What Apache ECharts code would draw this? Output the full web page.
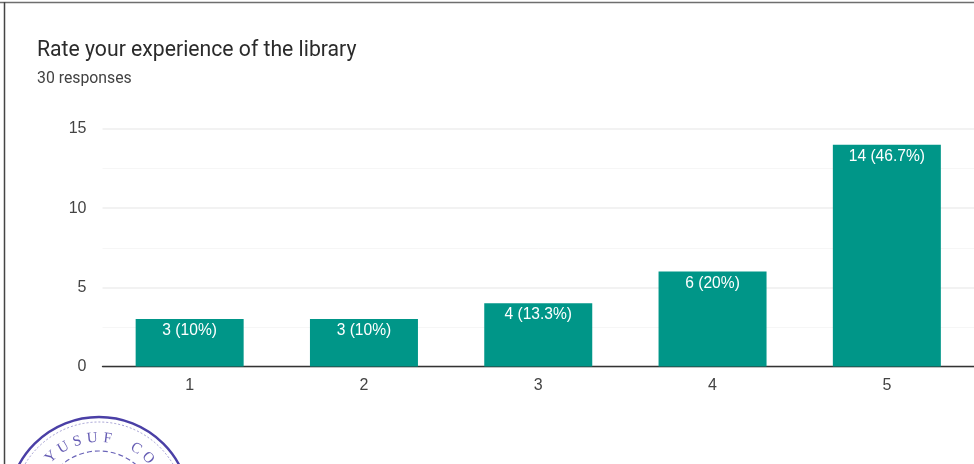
<!DOCTYPE html>
<html>
<head>
<meta charset="utf-8">
<style>html,body{margin:0;padding:0;background:#fff}#c{width:974px;height:464px}</style>
<script src="https://cdn.jsdelivr.net/npm/echarts@6/dist/echarts.min.js"></script>
</head>
<body>
<div id="c"></div>
<script>
const titleText = 'Rate your experience of the library';
const subtitleText = '30 responses';
const categories = ['1', '2', '3', '4', '5'];
const counts = [3, 3, 4, 6, 14];
const barLabels = ['3 (10%)', '3 (10%)', '4 (13.3%)', '6 (20%)', '14 (46.7%)'];
const stampLetters = ['Y', 'U', 'S', 'U', 'F', ' ', 'C', 'O'];

const chart = echarts.init(document.getElementById('c'), null, {renderer: 'canvas'});
const font = 'Roboto, Arial, sans-serif';
const numFont = '"Liberation Sans", Arial, sans-serif';
const stampColor = '#4a3fa6';
const cx = 99, cy = 508;
const stamp = [
  {type: 'circle', shape: {cx, cy, r: 91}, style: {fill: 'none', stroke: stampColor, lineWidth: 2.4}, z: 5},
  {type: 'circle', shape: {cx, cy, r: 86}, style: {fill: 'none', stroke: '#8d88c8', lineWidth: 0.8, lineDash: [2, 2]}, z: 5},
  {type: 'circle', shape: {cx, cy, r: 57}, style: {fill: 'none', stroke: '#6a64b8', lineWidth: 1.2, lineDash: [5, 3]}, z: 5}
];
stampLetters.forEach((ch, i) => {
  const a = (-43 + i * 12.5) * Math.PI / 180;
  stamp.push({
    type: 'text', x: cx + 70 * Math.sin(a), y: cy - 70 * Math.cos(a), rotation: -a, z: 5,
    style: {text: ch, fill: stampColor, font: '15px "Liberation Serif", serif', align: 'center', verticalAlign: 'middle', opacity: 0.85}
  });
});

chart.setOption({
  animation: false,
  backgroundColor: '#ffffff',
  title: {
    text: titleText, subtext: subtitleText, left: 37, top: 39, padding: 0, itemGap: 7,
    textStyle: {fontFamily: font, fontSize: 21.2, fontWeight: 400, color: '#2b2b2b', lineHeight: 24},
    subtextStyle: {fontFamily: font, fontSize: 15.8, color: '#424242', lineHeight: 18}
  },
  grid: {left: 102.5, right: 0, top: 129, bottom: 97.5, containLabel: false},
  xAxis: {
    type: 'category', data: categories,
    axisLine: {lineStyle: {color: '#333333', width: 1.4}},
    axisTick: {show: false},
    axisLabel: {color: '#444444', fontFamily: numFont, fontSize: 16, margin: 11},
    splitLine: {show: false}
  },
  yAxis: {
    type: 'value', min: 0, max: 15, interval: 5,
    axisLine: {show: false}, axisTick: {show: false},
    axisLabel: {color: '#444444', fontFamily: numFont, fontSize: 16, margin: 16},
    splitLine: {lineStyle: {color: '#eeeeee', width: 1.6}},
    minorTick: {show: false, splitNumber: 2},
    minorSplitLine: {show: true, lineStyle: {color: '#f6f6f6', width: 1}}
  },
  series: [{
    type: 'bar', data: counts, barWidth: 108,
    itemStyle: {color: '#009688'},
    label: {
      show: true, position: 'insideTop', distance: 4,
      color: '#ffffff', fontFamily: numFont, fontSize: 15.6,
      formatter: p => barLabels[p.dataIndex]
    }
  }],
  graphic: [
    {type: 'line', shape: {x1: 0, y1: 2.5, x2: 974, y2: 2.5}, style: {stroke: '#6e6e6e', lineWidth: 1.5}, z: 6},
    {type: 'line', shape: {x1: 4.5, y1: 2, x2: 4.5, y2: 464}, style: {stroke: '#444444', lineWidth: 1.5}, z: 6},
    ...stamp
  ]
});
</script>
</body>
</html>
